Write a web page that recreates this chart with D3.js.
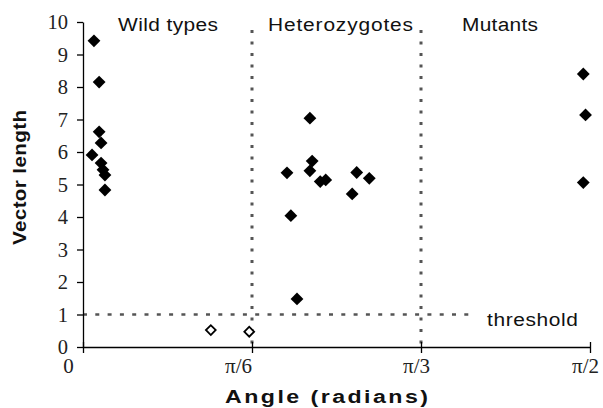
<!DOCTYPE html>
<html>
<head>
<meta charset="utf-8">
<script src="https://cdn.jsdelivr.net/npm/d3@7"></script>
<style>
  html, body { margin: 0; padding: 0; background: #fff; }
  svg { display: block; }
</style>
</head>
<body>
<svg id="chart" width="603" height="408"></svg>
<script>
// ---- data (angle in radians, vector length) ----
const wildAngles   = [0.034, 0.050, 0.050, 0.056, 0.028, 0.056, 0.062, 0.068, 0.068];
const wildLengths  = [9.42, 8.15, 6.62, 6.28, 5.91, 5.66, 5.45, 5.29, 4.83];
const hetAngles    = [0.703, 0.710, 0.632, 0.703, 0.735, 0.752, 0.848, 0.887, 0.834, 0.644, 0.663];
const hetLengths   = [7.04, 5.72, 5.36, 5.42, 5.09, 5.14, 5.37, 5.19, 4.71, 4.04, 1.48];
const mutAngles    = [1.550, 1.557, 1.550];
const mutLengths   = [8.40, 7.14, 5.06];
const belowAngles  = [0.396, 0.515];
const belowLengths = [0.52, 0.47];
const threshold = 1;
const dividers = [Math.PI / 6, Math.PI / 3];
const xTickValues = [0, Math.PI / 6, Math.PI / 3, Math.PI / 2];
const xTickLabels = ["0", "π/6", "π/3", "π/2"];
const yTickValues = [0, 1, 2, 3, 4, 5, 6, 7, 8, 9, 10];
const groupNames = ["Wild types", "Heterozygotes", "Mutants"];

const svg = d3.select("#chart");
const x = d3.scaleLinear().domain([0, Math.PI / 2]).range([83, 590]);
const y = d3.scaleLinear().domain([0, 10]).range([347, 22]);

const serif = "'Liberation Serif', 'Times New Roman', serif";
const sans = "'Liberation Sans', Arial, sans-serif";

// helper: widened text (glyph stretch + spacing to a target width)
function wideText(sel, str, px, py, size, width, stretch, weight, rotate) {
  const t = sel.append("text").text(str)
    .attr("transform", `translate(${px},${py})${rotate ? " rotate(-90)" : ""} scale(${stretch},1)`)
    .attr("font-family", sans).attr("font-size", size)
    .attr("font-weight", weight || "normal")
    .attr("textLength", width / stretch).attr("lengthAdjust", "spacing")
    .attr("fill", "#111");
  return t;
}

// dividers (dotted vertical lines)
svg.selectAll("line.div").data(dividers).enter().append("line")
  .attr("x1", d => x(d)).attr("x2", d => x(d))
  .attr("y1", 30).attr("y2", y(0))
  .attr("stroke", "#555").attr("stroke-width", 3)
  .attr("stroke-dasharray", "3,8.5");

// threshold line
svg.append("line")
  .attr("x1", x(0)).attr("x2", 470)
  .attr("y1", y(threshold)).attr("y2", y(threshold))
  .attr("stroke", "#555").attr("stroke-width", 2.6)
  .attr("stroke-dasharray", "4,8.3");

wideText(svg, "threshold", 487, y(threshold) + 11, 19, 91, 1.1);

// y axis
const yAxis = d3.axisLeft(y).tickValues(yTickValues).tickSize(6).tickSizeOuter(0).tickPadding(9);
const gy = svg.append("g").attr("transform", `translate(${x(0)},0)`).call(yAxis);
gy.select(".domain").attr("stroke", "#000").attr("stroke-width", 1.3);
gy.selectAll(".tick line").attr("stroke", "#000").attr("stroke-width", 1.3);
gy.selectAll(".tick text").attr("font-family", serif).attr("font-size", 20.5)
  .attr("fill", "#222").attr("dy", "0.32em");

// x axis
const xAxis = d3.axisBottom(x).tickValues(xTickValues)
  .tickFormat((d, i) => xTickLabels[i]).tickSize(6).tickSizeOuter(0).tickPadding(20);
const gx = svg.append("g").attr("transform", `translate(0,${y(0)})`).call(xAxis);
gx.select(".domain").attr("stroke", "#000").attr("stroke-width", 1.3);
gx.selectAll(".tick line").attr("stroke", "#000").attr("stroke-width", 1.3)
  .attr("y1", -5).attr("y2", 6);
gx.selectAll(".tick text").attr("font-family", serif).attr("font-size", 21)
  .attr("fill", "#222").attr("dx", (d, i) => [-15, -14, -5, -5][i]).attr("dy", "0");

// axis titles
wideText(svg, "Angle (radians)", 225, 403, 19, 203, 1.22, "bold");
wideText(svg, "Vector length", 26, 245, 17.5, 135, 1.18, "bold", true);

// group labels
const groupX = [118, 268, 462];
const groupW = [100, 145, 76];
groupNames.forEach((g, i) => wideText(svg, g, groupX[i], 31, 19, groupW[i], 1.1));

// points
const filled = [];
wildAngles.forEach((a, i) => filled.push([a, wildLengths[i]]));
hetAngles.forEach((a, i) => filled.push([a, hetLengths[i]]));
mutAngles.forEach((a, i) => filled.push([a, mutLengths[i]]));
const open = belowAngles.map((a, i) => [a, belowLengths[i]]);

const bigSym = d3.symbol(d3.symbolSquare).size(82)();
const smallSym = d3.symbol(d3.symbolSquare).size(48)();

svg.selectAll("path.fill").data(filled).enter().append("path")
  .attr("d", bigSym)
  .attr("transform", d => `translate(${x(d[0])},${y(d[1])}) rotate(45)`)
  .attr("fill", "#000");

svg.selectAll("path.open").data(open).enter().append("path")
  .attr("d", smallSym)
  .attr("transform", d => `translate(${x(d[0])},${y(d[1])}) rotate(45)`)
  .attr("fill", "#fff").attr("stroke", "#000").attr("stroke-width", 1.8);
</script>
</body>
</html>
